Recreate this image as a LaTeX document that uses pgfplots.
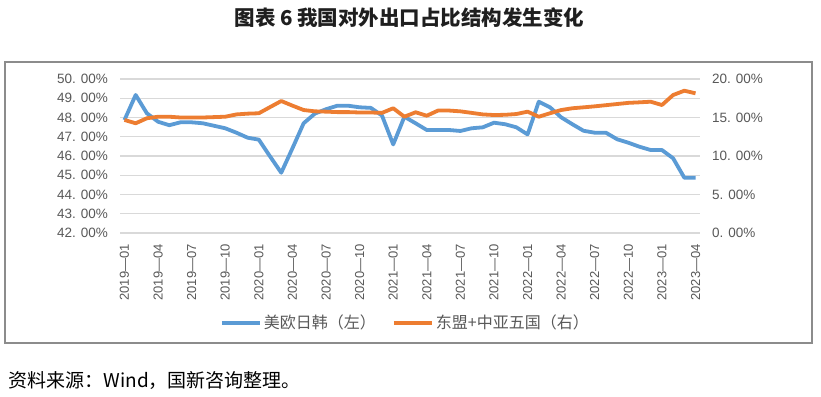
\documentclass[border=0pt]{standalone}
\usepackage{fontspec}
\setmainfont{Liberation Sans}
\newfontfamily\cjk{Noto Sans CJK SC}
\usepackage{pgfplots}
\usepackage{pgfplotstable}
\pgfplotsset{compat=1.18}
\definecolor{sblue}{HTML}{5B9BD5}
\definecolor{sorange}{HTML}{ED7D31}
\definecolor{tgray}{HTML}{595959}
\definecolor{ggray}{HTML}{D9D9D9}
\definecolor{bgray}{HTML}{8C8C8C}

\pgfplotstableread{
i blue orange
0 47.87 14.68
1 49.17 14.25
2 48.22 14.90
3 47.78 15.10
4 47.60 15.10
5 47.75 15.00
6 47.75 15.00
7 47.70 15.00
8 47.57 15.05
9 47.44 15.10
10 47.21 15.40
11 46.95 15.50
12 46.85 15.55
13 45.98 16.35
14 45.13 17.14
15 46.40 16.54
16 47.70 15.97
17 48.20 15.80
18 48.43 15.76
19 48.61 15.70
20 48.61 15.70
21 48.53 15.65
22 48.50 15.65
23 48.10 15.60
24 46.60 16.20
25 48.04 15.10
26 47.70 15.68
27 47.35 15.23
28 47.35 15.90
29 47.35 15.90
30 47.30 15.80
31 47.44 15.60
32 47.49 15.40
33 47.73 15.32
34 47.65 15.35
35 47.49 15.45
36 47.12 15.76
37 48.82 15.10
38 48.53 15.55
39 48.01 15.97
40 47.65 16.20
41 47.31 16.32
42 47.21 16.45
43 47.21 16.60
44 46.87 16.75
45 46.69 16.90
46 46.48 16.97
47 46.31 17.05
48 46.31 16.62
49 45.88 17.92
50 44.87 18.48
51 44.87 18.14
}\datatable

\begin{document}
\begin{tikzpicture}[x=1pt,y=1pt]
\useasboundingbox (0,0) rectangle (821,396);
\fill[white] (0,0) rectangle (821,396);
\draw[bgray, line width=1.2pt] (5,53) rectangle (812,334);
\node[font=\cjk\bfseries\fontsize{20.5}{24}\selectfont, text=black!88] at (409.5,378) {图表 6\ 我国对外出口占比结构发生变化};
\node[anchor=west, font=\cjk\fontsize{19}{22}\selectfont, text=black] at (5,16) {资料来源：Wind，国新咨询整理。};

\begin{axis}[
  at={(120pt,163pt)}, anchor=south west,
  scale only axis, width=580pt, height=154pt,
  xmin=-0.4, xmax=51.4, ymin=42, ymax=50,
  axis line style={draw=none},
  major tick length=0pt,
  ymajorgrids, grid style={ggray, line width=1.1pt},
  ytick={42,43,44,45,46,47,48,49,50},
  yticklabels={42. 00\%,43. 00\%,44. 00\%,45. 00\%,46. 00\%,47. 00\%,48. 00\%,49. 00\%,50. 00\%},
  xtick={0,3,...,51},
  xticklabels={2019—01,2019—04,2019—07,2019—10,2020—01,2020—04,2020—07,2020—10,2021—01,2021—04,2021—07,2021—10,2022—01,2022—04,2022—07,2022—10,2023—01,2023—04},
  tick label style={text=tgray, inner sep=0pt},
  y tick label style={font=\fontsize{13.5}{15}\selectfont},
  x tick label style={rotate=90, anchor=east, font=\fontsize{13}{14}\selectfont},
  xticklabel shift=11pt, yticklabel shift=12pt,
  legend style={at={(0.492,-0.582)}, anchor=center, draw=none, fill=none,
    font=\cjk\fontsize{16}{18}\selectfont, text=tgray, legend columns=2,
    /tikz/every even column/.append style={column sep=14pt}},
  legend image code/.code={\draw[#1, line width=4pt] (0pt,0pt) -- (38pt,0pt);},
]
\addplot[sblue, line width=3.8pt, line join=round] table[x=i, y=blue] {\datatable};
\addlegendentry{美欧日韩（左）}
\addlegendimage{sorange, line width=3.8pt}
\addlegendentry{东盟+中亚五国（右）}
\end{axis}

\begin{axis}[
  at={(120pt,163pt)}, anchor=south west,
  scale only axis, width=580pt, height=154pt,
  xmin=-0.4, xmax=51.4, ymin=0, ymax=20,
  axis y line*=right, hide x axis,
  axis line style={draw=none},
  major tick length=0pt,
  ytick={0,5,10,15,20},
  yticklabels={0. 00\%,5. 00\%,10. 00\%,15. 00\%,20. 00\%},
  y tick label style={text=tgray, inner sep=0pt, font=\fontsize{13.5}{15}\selectfont},
  yticklabel shift=12pt,
]
\addplot[sorange, line width=3.8pt, line join=round] table[x=i, y=orange] {\datatable};
\end{axis}
\end{tikzpicture}
\end{document}
